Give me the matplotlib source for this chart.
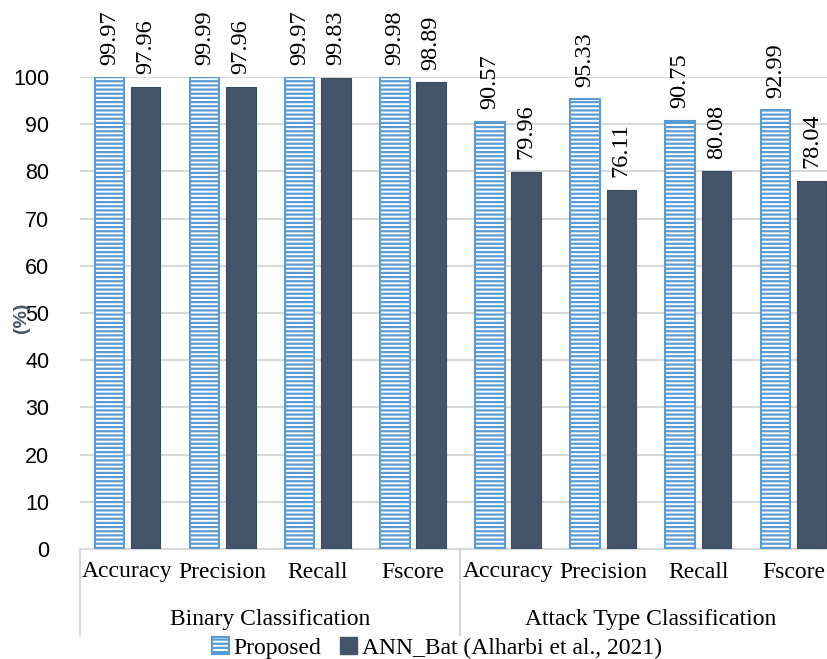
import matplotlib.pyplot as plt
import matplotlib.transforms as mtransforms
from matplotlib.patches import Patch
import numpy as np

metrics = ['Accuracy', 'Precision', 'Recall', 'Fscore',
           'Accuracy', 'Precision', 'Recall', 'Fscore']
groups = ['Binary Classification', 'Attack Type Classification']
proposed = [99.97, 99.99, 99.97, 99.98, 90.57, 95.33, 90.75, 92.99]
ann_bat = [97.96, 97.96, 99.83, 98.89, 79.96, 76.11, 80.08, 78.04]
series_names = ['Proposed', 'ANN_Bat (Alharbi et al., 2021)']

blue = '#5B9BD5'
dark = '#44546A'
grid_c = '#D9D9D9'
serif = ['Liberation Serif', 'DejaVu Serif']
sans = ['Liberation Sans', 'DejaVu Sans']

plt.rcParams['hatch.linewidth'] = 1.6
plt.rcParams['hatch.color'] = blue

fig = plt.figure(figsize=(8.28, 6.59), dpi=100)
ax = fig.add_axes([80 / 828, 110 / 659, 761 / 828, 472 / 659])

x = np.arange(len(metrics))
w = 0.31
off = 0.19
b1 = ax.bar(x - off, proposed, w, facecolor='white', edgecolor=blue,
            hatch='----', linewidth=1.5, zorder=3)
b2 = ax.bar(x + off, ann_bat, w, color=dark, edgecolor='#3b4a5e',
            linewidth=0.8, zorder=3)

for xs, vals in [(x - off, proposed), (x + off, ann_bat)]:
    for xi, v in zip(xs, vals):
        ax.annotate(f'{v:.2f}', (xi, v), xytext=(0, 9), textcoords='offset points',
                    rotation=90, ha='center', va='bottom', fontsize=17.5,
                    family=serif, annotation_clip=False)

ax.set_xlim(-0.5, 7.5)
ax.set_ylim(0, 100)
ax.set_yticks(np.arange(0, 101, 10))
ax.yaxis.grid(True, color=grid_c, linewidth=1.5, zorder=0)
ax.set_axisbelow(True)
for s in ['top', 'right', 'left']:
    ax.spines[s].set_visible(False)
ax.spines['bottom'].set_color(grid_c)
ax.spines['bottom'].set_linewidth(1.5)
ax.tick_params(axis='y', length=0, pad=22, labelsize=15.5)
for t in ax.get_yticklabels():
    t.set_family(sans)
ax.set_xticks(x)
ax.set_xticklabels(metrics, fontsize=17, family=serif)
ax.tick_params(axis='x', length=0, pad=9)

trans = mtransforms.blended_transform_factory(ax.transData, ax.transAxes)
for xd in [-0.5, 3.5, 7.5]:
    ax.plot([xd, xd], [0, -0.182], transform=trans, color=grid_c,
            linewidth=1.5, clip_on=False)
for gi, g in enumerate(groups):
    ax.text(1.5 + 4 * gi, -0.150, g, transform=trans, ha='center', va='center',
            fontsize=17, family=serif)

fig.text(22 / 828, 1 - 318 / 659, '(%)', rotation=90, ha='center', va='center',
         fontsize=14, fontweight='bold', color=dark, family=sans)

handles = [Patch(facecolor='white', edgecolor=blue, hatch='----', linewidth=1.5),
           Patch(facecolor=dark, edgecolor=dark)]
fig.legend(handles, series_names, loc='center', bbox_to_anchor=(437 / 828, 1 - 648 / 659),
           ncol=2, frameon=False, prop={'family': serif, 'size': 17},
           handlelength=0.7, handleheight=0.7, handletextpad=0.2, columnspacing=0.8,
           borderpad=0)

fig.savefig('out.png', dpi=100)
